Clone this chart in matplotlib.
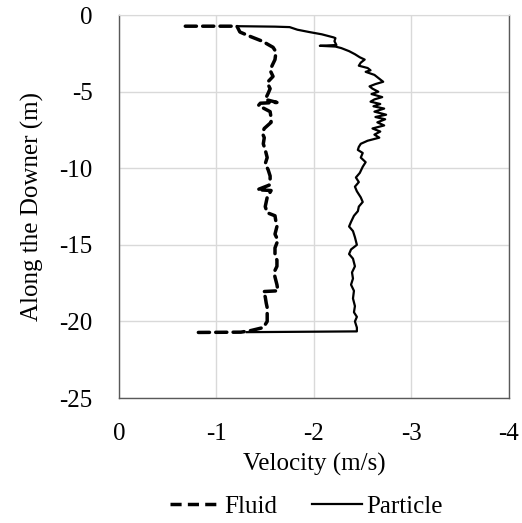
import matplotlib
matplotlib.use("Agg")
import matplotlib.pyplot as plt
from matplotlib.lines import Line2D

plt.rcParams['font.family'] = ['Liberation Serif', 'DejaVu Serif']

# Fluid velocity profile along the downer
fluid_y = [-0.72, -0.72, -1.1, -1.4, -1.7, -2.1, -2.4, -2.9, -3.3, -3.6, -4.0, -4.4, -4.8,
           -5.1, -5.5, -5.7, -5.75, -5.9, -6.3, -6.7, -7.0, -7.4, -7.7, -8.0, -8.4, -8.8,
           -9.3, -9.7, -10.1, -10.5, -10.8, -11.1, -11.4, -11.45, -11.9, -12.5, -12.9, -13.1,
           -13.5, -13.8, -14.3, -14.7, -15.2, -15.6, -16.0, -16.4, -16.8, -17.1, -17.6, -18.0,
           -18.05, -18.4, -18.8, -19.1, -19.6, -20.0, -20.4, -20.6, -20.7, -20.72]
fluid_v = [-0.68, -1.21, -1.24, -1.35, -1.47, -1.58, -1.61, -1.60, -1.57, -1.55, -1.58, -1.52, -1.55,
           -1.53, -1.50, -1.62, -1.45, -1.43, -1.55, -1.56, -1.56, -1.49, -1.47, -1.49, -1.48, -1.50,
           -1.52, -1.50, -1.53, -1.55, -1.55, -1.54, -1.42, -1.56, -1.52, -1.50, -1.52, -1.60,
           -1.61, -1.62, -1.60, -1.63, -1.60, -1.60, -1.62, -1.62, -1.59, -1.60, -1.62, -1.63,
           -1.48, -1.50, -1.51, -1.52, -1.52, -1.52, -1.48, -1.35, -1.25, -0.78]

# Particle velocity profile along the downer
particle_y = [-0.72, -0.75, -0.78, -0.95, -1.1, -1.25, -1.45, -1.5, -1.7, -1.95, -2.0, -2.05,
              -2.15, -2.35, -2.55, -2.75, -2.9, -3.1, -3.3, -3.45, -3.6, -3.7, -3.9, -4.1,
              -4.35, -4.5, -4.65, -4.8, -5.0, -5.15, -5.35, -5.5, -5.65, -5.8, -5.95, -6.1,
              -6.3, -6.5, -6.65, -6.8, -7.0, -7.2, -7.4, -7.6, -7.8, -8.0, -8.2, -8.4, -8.6,
              -8.8, -9.0, -9.3, -9.6, -9.9, -10.3, -10.6, -10.9, -11.2, -11.5, -11.9, -12.2,
              -12.5, -12.8, -13.1, -13.5, -13.8, -14.1, -14.5, -15.0, -15.3, -15.6, -15.9,
              -16.4, -16.8, -17.2, -17.6, -18.0, -18.5, -19.0, -19.4, -19.7, -20.0, -20.4,
              -20.65, -20.7]
particle_v = [-1.21, -1.60, -1.75, -1.83, -1.95, -2.08, -2.20, -2.22, -2.21, -2.23, -2.06, -2.22,
              -2.28, -2.36, -2.42, -2.47, -2.52, -2.48, -2.46, -2.55, -2.58, -2.53, -2.62, -2.66,
              -2.71, -2.63, -2.57, -2.60, -2.66, -2.59, -2.70, -2.62, -2.58, -2.68, -2.61, -2.72,
              -2.62, -2.74, -2.63, -2.73, -2.65, -2.72, -2.60, -2.68, -2.62, -2.67, -2.55, -2.48,
              -2.46, -2.45, -2.50, -2.48, -2.53, -2.50, -2.47, -2.43, -2.46, -2.42, -2.44, -2.48,
              -2.50, -2.46, -2.45, -2.41, -2.38, -2.36, -2.40, -2.42, -2.44, -2.38, -2.36, -2.40,
              -2.42, -2.39, -2.40, -2.38, -2.41, -2.40, -2.42, -2.41, -2.44, -2.42, -2.44,
              -2.44, -1.31]

x_ticks = [0, -1, -2, -3, -4]
y_ticks = [0, -5, -10, -15, -20, -25]

FS = 18

fig = plt.figure(figsize=(5.22, 5.23), dpi=100)
ax = fig.add_axes([0.228, 0.239, 0.747, 0.732])

ax.plot(fluid_v, fluid_y, color='black', lw=2.5, linestyle=(0, (3.2, 1.8)),
        solid_capstyle='round', dash_capstyle='round')
ax.plot(particle_v, particle_y, color='black', lw=1.6, solid_joinstyle='round')

ax.set_xlim(0, -4)
ax.set_ylim(-25, 0)
ax.set_xticks(x_ticks)
ax.set_yticks(y_ticks)
ax.set_xticklabels([f"{t:g}" for t in x_ticks])
ax.set_yticklabels([f"{t:g}" for t in y_ticks])
ax.tick_params(axis='both', length=0, labelsize=FS)
ax.tick_params(axis='x', pad=18)
ax.tick_params(axis='y', pad=19)

ax.grid(True, color='#d9d9d9', lw=1)
ax.set_axisbelow(True)
for side in ['left', 'bottom', 'right']:
    ax.spines[side].set_color('#595959')
    ax.spines[side].set_linewidth(1)
ax.spines['top'].set_color('#d9d9d9')

ax.set_xlabel('Velocity (m/s)', fontsize=FS, labelpad=6)
ax.set_ylabel('Along the Downer (m)', fontsize=FS, labelpad=11)

handles = [Line2D([], [], color='black', lw=2.5, linestyle=(0, (3.2, 1.8))),
           Line2D([], [], color='black', lw=1.6)]
fig.legend(handles, ['Fluid', 'Particle'], loc='center', bbox_to_anchor=(0.587, 0.032),
           ncol=2, frameon=False, fontsize=FS, handlelength=2.0, handletextpad=0.15,
           columnspacing=1.4)

fig.savefig('out.png', dpi=100)
